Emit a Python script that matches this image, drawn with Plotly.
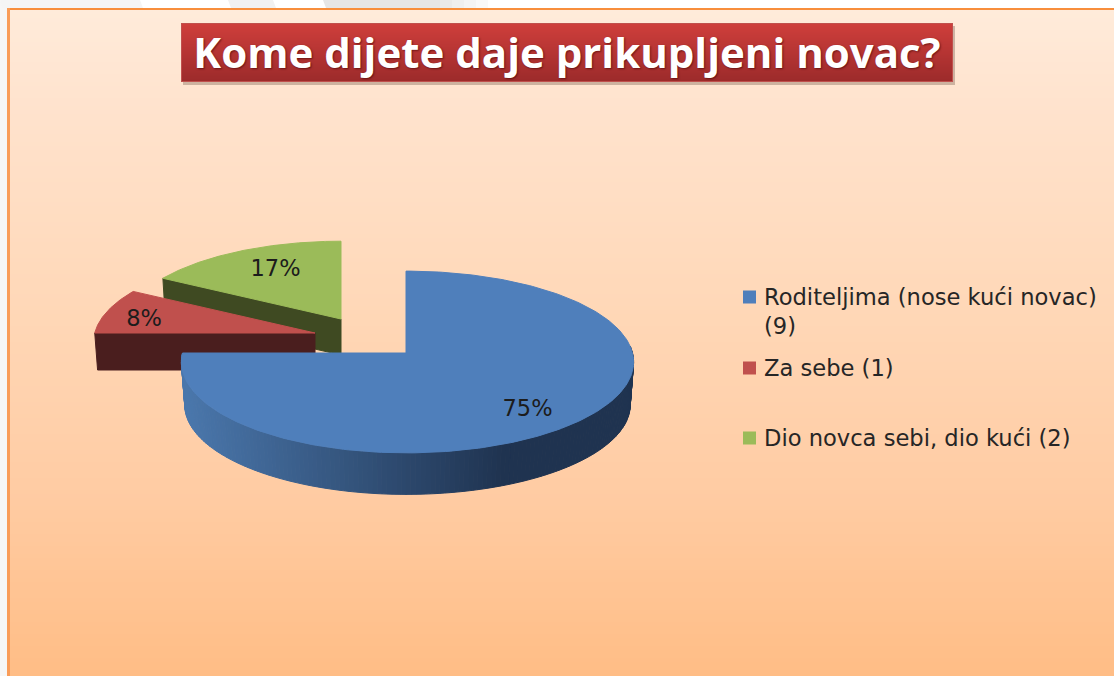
import math
import plotly.graph_objects as go

# ---------- data ----------
categories = ["Roditeljima (nose kući novac)<br>(9)", "Za sebe (1)", "Dio novca sebi, dio kući (2)"]
counts = [9, 1, 2]
pct_labels = ["75%", "8%", "17%"]
title_text = "Kome dijete daje prikupljeni novac?"

# ---------- styles / geometry constants ----------
top_colors = ["#4F7FBB", "#C0504D", "#9BBB59"]
wall_colors = [None, "#4A1E1E", "#3F4A22"]
apex_x = [406, 315, 341]
apex_y = [353, 333, 319]
scale = [1.0, 0.97, 0.95]
rim_dx = [1.5, -2, -2]
depth = [43, 37, 36]
label_r = [0.76, 0.82, 0.65]
label_dx = [-7, 0, 1]
label_dy = [6, 6, -3]
key_x = 749.5
key_y = [297, 368, 438]
key_text_x = 762
RX, RY, K = 225.0, 90.0, 0.099
W, H = 1114, 676


def proj(i, theta, r=1.0, d=0.0):
    c, s = math.sin(theta) * r, -math.cos(theta) * r
    q = scale[i] * (1 - 0.00035 * d)
    f = 1 - K * s
    return apex_x[i] + rim_dx[i] * abs(c) + q * RX * c / f, apex_y[i] + d + q * RY * s / f


def lerp_hex(a, b, t):
    a = [int(a[j:j + 2], 16) for j in (1, 3, 5)]
    b = [int(b[j:j + 2], 16) for j in (1, 3, 5)]
    return "#%02x%02x%02x" % tuple(round(a[j] + (b[j] - a[j]) * t) for j in range(3))


total = sum(counts)
# slice start angles, clockwise from 12 o'clock
spans = [2 * math.pi * v / total for v in counts]
starts = [0.0, spans[0], spans[0] + spans[1]]

fig = go.Figure()
STEPS = 240
label_x, label_y = [], []

for i in [2, 1, 0]:
    a0, a1 = starts[i], starts[i] + spans[i]
    ts = [a0 + (a1 - a0) * n / STEPS for n in range(STEPS + 1)]
    if i == 0:
        # curved outer wall, graded left to right
        vis = [t for t in ts if t >= math.pi / 2 - 0.08]
        for t0, t1 in zip(vis[:-1], vis[1:]):
            pts = [proj(i, t0), proj(i, t1), proj(i, t1, 1, depth[i]), proj(i, t0, 1, depth[i])]
            mx = sum(p[0] for p in pts) / 4
            col = lerp_hex("#4A77AC", "#1F3350", min(1, max(0, (mx - 186) / (503 - 186))))
            fig.add_trace(go.Scatter(x=[p[0] for p in pts] + [pts[0][0]], y=[p[1] for p in pts] + [pts[0][1]],
                                     mode="lines", fill="toself", fillcolor=col, line=dict(color=col, width=1),
                                     hoverinfo="skip", showlegend=False))
    else:
        # straight cut wall from apex to the rim at the start angle
        px, py = proj(i, a0)
        bx, by = proj(i, a0, 1, depth[i])
        wx = [apex_x[i], px, bx, apex_x[i], apex_x[i]]
        wy = [apex_y[i], py, by, apex_y[i] + depth[i], apex_y[i]]
        fig.add_trace(go.Scatter(x=wx, y=wy, mode="lines", fill="toself", fillcolor=wall_colors[i],
                                 line=dict(color=wall_colors[i], width=1), hoverinfo="skip", showlegend=False))
    rim = [proj(i, t) for t in ts]
    fig.add_trace(go.Scatter(x=[apex_x[i]] + [p[0] for p in rim] + [apex_x[i]],
                             y=[apex_y[i]] + [p[1] for p in rim] + [apex_y[i]],
                             mode="lines", fill="toself", fillcolor=top_colors[i],
                             line=dict(color=top_colors[i], width=1), hoverinfo="skip", showlegend=False))

for i in range(3):
    lx, ly = proj(i, starts[i] + spans[i] / 2, label_r[i])
    label_x.append(lx + label_dx[i])
    label_y.append(ly + label_dy[i])

fig.add_trace(go.Scatter(x=label_x, y=label_y, mode="text", text=pct_labels, hoverinfo="skip", showlegend=False,
                         textfont=dict(family="DejaVu Sans", size=22.5, color="#1C1C1C")))

# colour key
annotations = []
for i, name in enumerate(categories):
    fig.add_trace(go.Scatter(x=[key_x], y=[key_y[i]], mode="markers", name=name, hoverinfo="skip", showlegend=False,
                             marker=dict(symbol="square", size=13, color=top_colors[i], line=dict(width=0))))
    annotations.append(dict(x=key_text_x, y=key_y[i] - 15, xref="x", yref="y", xanchor="left", yanchor="top",
                            text=name, showarrow=False, align="left",
                            font=dict(family="DejaVu Sans", size=22.6, color="#262626")))

# ---------- page decoration ----------
shapes = []
def rect(x0, y0, x1, y1, col):
    shapes.append(dict(type="rect", xref="x", yref="y", x0=x0, y0=y0, x1=x1, y1=y1,
                       fillcolor=col, line=dict(width=0), layer="below"))

def slant(x0, x1, col):
    shapes.append(dict(type="path", xref="x", yref="y", layer="below", fillcolor=col, line=dict(width=0),
                       path="M %g,0 L %g,0 L %g,8 L %g,8 Z" % (x0, x1, x1 + 3, x0 + 3)))

rect(0, 0, 7, H, "#F6F6F6")
slant(0, 140, "#F5F5F5")
slant(228, 273, "#F1F1F1")
slant(323, 440, "#E6E6E6")
for n, col in enumerate(["#EAEAEA", "#EFEFEF", "#F4F4F4", "#F9F9F9"]):
    rect(440 + 12 * n, 0, 452 + 12 * n, 8, col)
# vertical background gradient
stops = [(10, "#FFEBDA"), (100, "#FFE3CE"), (300, "#FFD8B8"), (500, "#FFCBA2"), (676, "#FFBD85")]
for y in range(10, H, 4):
    for (y0, c0), (y1, c1) in zip(stops[:-1], stops[1:]):
        if y0 <= y <= y1:
            rect(10, y, W, y + 4, lerp_hex(c0, c1, (y - y0) / (y1 - y0)))
            break
rect(7, 8, W, 10, "#F88E3C")
rect(7, 8, 10, H, "#F99C58")
# title plate: shadow, border, gradient
rect(183, 26, 955, 85, "rgba(90,60,50,0.30)")
rect(181, 23, 953, 82, "#C0504D")
for y in range(24, 81):
    rect(182, y, 952, y + 1, lerp_hex("#CE3E3B", "#9D2B2B", (y - 24) / 56))

fig.update_layout(
    width=W, height=H, margin=dict(l=0, r=0, t=0, b=0),
    paper_bgcolor="#FFFFFF", plot_bgcolor="#FFFFFF", shapes=shapes, annotations=annotations,
    xaxis=dict(range=[0, W], visible=False, fixedrange=True),
    yaxis=dict(range=[H, 0], visible=False, fixedrange=True),
    title=dict(text="<b>%s</b>" % title_text, x=567 / W, y=1 - 53 / H, xanchor="center", yanchor="middle",
               xref="paper", yref="container",
               font=dict(family="Open Sans", size=42, color="#FFFFFF", shadow="1px 1px 2px rgba(60,0,0,0.6)")),
    showlegend=False,
)
fig.write_html("out.html", config={"displayModeBar": False},
               post_script="document.body.style.margin='0';document.documentElement.style.overflow='hidden';")
